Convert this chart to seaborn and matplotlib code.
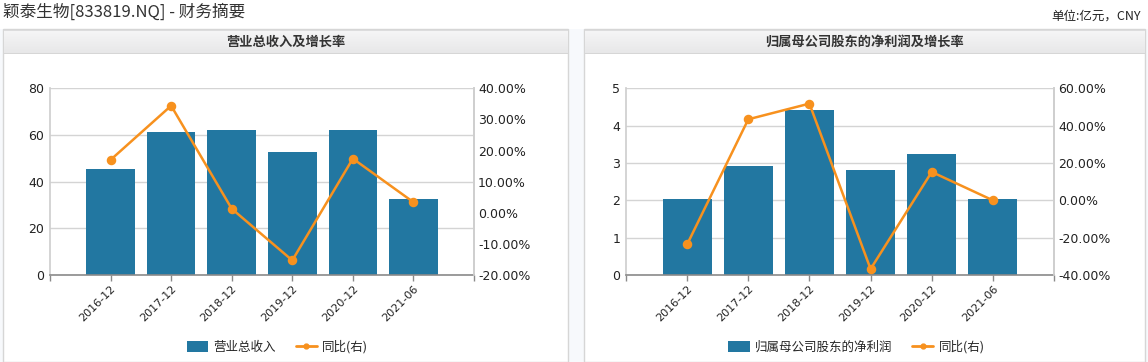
import numpy as np
import pandas as pd
import matplotlib
matplotlib.use("Agg")
import matplotlib.pyplot as plt
import seaborn as sns
from matplotlib.patches import Rectangle, Patch
from matplotlib.lines import Line2D
from matplotlib.ticker import FuncFormatter, FixedLocator

# ---- data ----
periods = ["2016-12", "2017-12", "2018-12", "2019-12", "2020-12", "2021-06"]
revenue = [45.3, 61.1, 62.0, 52.6, 62.0, 32.5]
revenue_yoy = [17.0, 34.4, 1.3, -15.3, 17.4, 3.4]
net_profit = [2.04, 2.92, 4.42, 2.81, 3.24, 2.04]
net_profit_yoy = [-23.6, 43.4, 51.8, -36.8, 15.2, 0.0]

main_title = "颖泰生物[833819.NQ] - 财务摘要"
unit_text = "单位:亿元，CNY"
panel_titles = ["营业总收入及增长率", "归属母公司股东的净利润及增长率"]
bar_names = ["营业总收入", "归属母公司股东的净利润"]
line_name = "同比(右)"
left_ticks = [[0, 20, 40, 60, 80], [0, 1, 2, 3, 4, 5]]
right_ticks = [[-20, -10, 0, 10, 20, 30, 40], [-40, -20, 0, 20, 40, 60]]

sns.set_theme(style="white")
plt.rcParams["font.family"] = ["DejaVu Sans", "Noto Sans CJK SC"]

W, H = 1148, 362
fig = plt.figure(figsize=(W / 100, H / 100), dpi=100)
fig.patch.set_facecolor("white")

BAR = "#2277a1"
ORANGE = "#f7911e"
TXT = "#222222"

def fx(px):
    return px / W

def fy(py):
    return 1 - py / H

# background strip behind panels
fig.patches.append(Rectangle((0, 0), 1, fy(29), transform=fig.transFigure,
                             facecolor="#f7f9fc", edgecolor="none", zorder=0))

panels = [(3, 568), (584, 1145)]
axes_px = [(50, 474), (626, 1054)]

for i, (p0, p1) in enumerate(panels):
    # panel body
    fig.patches.append(Rectangle((fx(p0), 0), fx(p1 - p0), fy(29), transform=fig.transFigure,
                                 facecolor="white", edgecolor="#d6d6d6", lw=1.0, zorder=1))
    # header gradient
    hax = fig.add_axes([fx(p0 + 0.5), fy(54), fx(p1 - p0 - 1), (54 - 29.5) / H])
    hax.set_zorder(4)
    grad = np.linspace(0, 1, 50).reshape(-1, 1)
    cmap = matplotlib.colors.LinearSegmentedColormap.from_list("g", ["#f6f6f7", "#e7e7e8"])
    hax.imshow(grad, aspect="auto", cmap=cmap, extent=[0, 1, 0, 1], origin="upper")
    hax.set_xlim(0, 1)
    hax.set_ylim(0, 1)
    hax.set_xticks([])
    hax.set_yticks([])
    for s in hax.spines.values():
        s.set_visible(False)
    hax.axhline(0.0, color="#d3d3d3", lw=1.2)
    hax.axhline(1.0, color="#d8d8d8", lw=1.2)
    hax.text(0.5, 0.5, panel_titles[i], ha="center", va="center", fontsize=9.5,
             fontweight="bold", color="#333333", family=["Noto Sans CJK SC", "DejaVu Sans"])

datasets = [(revenue, revenue_yoy), (net_profit, net_profit_yoy)]

for i, ((a0, a1), (bars, yoy)) in enumerate(zip(axes_px, datasets)):
    ax = fig.add_axes([fx(a0), fy(275), fx(a1 - a0), (275 - 88.3) / H])
    ax.set_facecolor("none")
    df = pd.DataFrame({"period": periods, "value": bars, "yoy": yoy})
    sns.barplot(data=df, x="period", y="value", color=BAR, saturation=1, width=0.8,
                ax=ax, zorder=2, edgecolor="none")
    ax2 = ax.twinx()
    sns.pointplot(data=df, x="period", y="yoy", color=ORANGE, markers="o",
                  linewidth=1.8, markersize=5.5, ax=ax2, zorder=5)
    ax.set_zorder(2)
    ax2.set_zorder(3)
    ax2.patch.set_visible(False)

    lt = left_ticks[i]
    rt = right_ticks[i]
    ax.set_ylim(lt[0], lt[-1])
    ax.set_yticks(lt)
    ax2.set_ylim(rt[0], rt[-1])
    ax2.set_yticks(rt)
    ax2.yaxis.set_major_formatter(FuncFormatter(lambda v, p: f"{v:.2f}%"))
    for a in (ax, ax2):
        a.set_xlim(-1, len(periods))
        a.set_xlabel("")
        a.set_ylabel("")

    ax.yaxis.grid(True, color="#d4d4d4", lw=1.0, zorder=0)
    ax.set_axisbelow(True)
    ax2.grid(False)

    for s in ("top",):
        ax.spines[s].set_visible(False)
        ax2.spines[s].set_visible(False)
    ax.spines["left"].set_color("#cfcfcf")
    ax.spines["right"].set_color("#cfcfcf")
    ax2.spines["left"].set_visible(False)
    ax2.spines["right"].set_color("#cfcfcf")
    ax2.spines["bottom"].set_visible(False)
    ax.spines["bottom"].set_color("#8a8a8a")
    ax.spines["bottom"].set_linewidth(1.2)

    ax.tick_params(axis="y", length=0, labelsize=9, labelcolor=TXT, pad=4)
    ax2.tick_params(axis="y", length=0, labelsize=9, labelcolor=TXT, pad=3)
    ax.tick_params(axis="x", which="both", length=4, width=1, color="#8a8a8a",
                   labelsize=8, labelcolor=TXT, pad=2, bottom=True)
    ax2.tick_params(axis="x", bottom=False, labelbottom=False)
    ax.xaxis.set_minor_locator(FixedLocator([-1, len(periods)]))
    for lab in ax.get_xticklabels():
        lab.set_rotation(45)
        lab.set_ha("right")
        lab.set_va("top")
        lab.set_rotation_mode("anchor")

    # legend
    handles = [Patch(facecolor=BAR, edgecolor="none"),
               Line2D([0], [0], color=ORANGE, lw=2, marker="o", markersize=3.5)]
    pc = (panels[i][0] + panels[i][1]) / 2
    fig.legend(handles, [bar_names[i], line_name], loc="center",
               bbox_to_anchor=(fx(pc - 8), fy(347)), ncol=2, frameon=False,
               fontsize=9, handlelength=1.7, handleheight=0.9, columnspacing=1.6,
               handletextpad=0.4, prop={"family": ["Noto Sans CJK SC", "DejaVu Sans"], "size": 9})

fig.text(fx(3), fy(12), main_title, ha="left", va="center", fontsize=12, color="#333333",
         family=["Noto Sans CJK SC", "DejaVu Sans"])
fig.text(fx(1141), fy(16), unit_text, ha="right", va="center", fontsize=9, color="#222222",
         family=["Noto Sans CJK SC", "DejaVu Sans"])

fig.savefig("out.png", dpi=100, facecolor="white")
